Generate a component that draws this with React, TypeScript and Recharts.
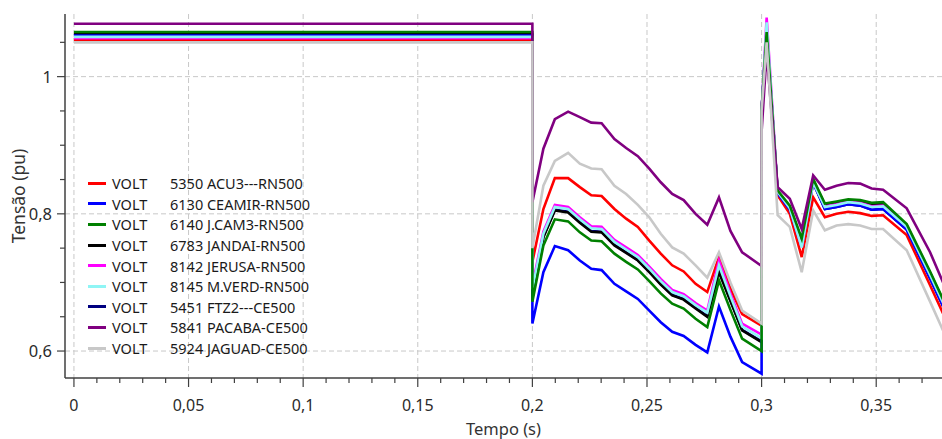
import { CartesianGrid, Line, LineChart, XAxis, YAxis } from "recharts"

// tempo (s): regime, curto em 0,2 s, abertura em 0,3 s
const tempo = [
  0, 0.2,
  0.2, 0.2048, 0.2098, 0.2156, 0.2207, 0.2257, 0.2302, 0.2358, 0.2409, 0.246,
  0.251, 0.256, 0.261, 0.266, 0.2712, 0.2763, 0.2814, 0.2864, 0.2915, 0.3,
  0.3, 0.3022, 0.307, 0.3123, 0.3175, 0.3225, 0.3276, 0.3327, 0.3378, 0.343,
  0.348, 0.353, 0.3633, 0.3735, 0.382,
]

// tensões (pu) por barra
const acu3 = [
  1.054, 1.054,
  0.73, 0.807, 0.852, 0.852, 0.839, 0.827, 0.826, 0.807, 0.793, 0.781,
  0.761, 0.742, 0.725, 0.716, 0.698, 0.686, 0.737, 0.691, 0.654, 0.637,
  0.95, 1.055, 0.827, 0.8, 0.737, 0.824, 0.795, 0.8, 0.803, 0.801,
  0.797, 0.798, 0.769, 0.696, 0.634,
]
const ceamir = [
  1.06, 1.06,
  0.64, 0.715, 0.753, 0.747, 0.732, 0.72, 0.718, 0.698, 0.687, 0.676,
  0.659, 0.642, 0.628, 0.622, 0.609, 0.598, 0.665, 0.621, 0.584, 0.567,
  0.95, 1.07, 0.83, 0.806, 0.752, 0.846, 0.807, 0.81, 0.814, 0.812,
  0.806, 0.807, 0.777, 0.706, 0.645,
]
const jcam3 = [
  1.065, 1.065,
  0.672, 0.754, 0.792, 0.789, 0.773, 0.761, 0.76, 0.742, 0.73, 0.719,
  0.702, 0.684, 0.669, 0.662, 0.647, 0.635, 0.703, 0.66, 0.618, 0.6,
  0.95, 1.065, 0.834, 0.812, 0.764, 0.851, 0.815, 0.818, 0.821, 0.82,
  0.816, 0.817, 0.785, 0.716, 0.655,
]
const jandai = [
  1.062, 1.062,
  0.68, 0.766, 0.805, 0.802, 0.787, 0.774, 0.773, 0.754, 0.743, 0.732,
  0.715, 0.697, 0.681, 0.675, 0.662, 0.65, 0.715, 0.673, 0.63, 0.613,
  0.95, 1.068, 0.832, 0.81, 0.76, 0.849, 0.813, 0.816, 0.819, 0.818,
  0.814, 0.815, 0.783, 0.714, 0.653,
]
const jerusa = [
  1.056, 1.056,
  0.695, 0.774, 0.813, 0.81, 0.795, 0.782, 0.781, 0.762, 0.751, 0.74,
  0.723, 0.705, 0.689, 0.683, 0.67, 0.659, 0.732, 0.684, 0.64, 0.624,
  0.95, 1.086, 0.833, 0.809, 0.752, 0.847, 0.811, 0.814, 0.818, 0.816,
  0.811, 0.812, 0.782, 0.712, 0.651,
]
const mverd = [
  1.058, 1.058,
  0.69, 0.771, 0.81, 0.807, 0.792, 0.779, 0.778, 0.759, 0.748, 0.737,
  0.72, 0.702, 0.686, 0.68, 0.667, 0.656, 0.725, 0.68, 0.636, 0.619,
  0.95, 1.079, 0.832, 0.808, 0.751, 0.846, 0.81, 0.813, 0.817, 0.815,
  0.81, 0.811, 0.781, 0.711, 0.65,
]
const ftz2 = [
  1.06, 1.06,
  0.682, 0.767, 0.806, 0.803, 0.788, 0.775, 0.774, 0.755, 0.744, 0.733,
  0.716, 0.698, 0.682, 0.676, 0.663, 0.651, 0.717, 0.674, 0.631, 0.614,
  0.95, 1.072, 0.83, 0.806, 0.754, 0.845, 0.807, 0.81, 0.814, 0.812,
  0.806, 0.807, 0.777, 0.706, 0.645,
]
const pacaba = [
  1.077, 1.077,
  0.817, 0.895, 0.938, 0.949, 0.941, 0.933, 0.932, 0.909, 0.896, 0.884,
  0.866, 0.846, 0.829, 0.82, 0.8, 0.784, 0.824, 0.775, 0.744, 0.724,
  0.92, 1.035, 0.839, 0.822, 0.778, 0.856, 0.835, 0.841, 0.845, 0.844,
  0.837, 0.835, 0.808, 0.744, 0.678,
]
const jaguad = [
  1.05, 1.05,
  0.75, 0.841, 0.877, 0.889, 0.873, 0.866, 0.865, 0.841, 0.829, 0.813,
  0.795, 0.771, 0.751, 0.742, 0.725, 0.707, 0.744, 0.7, 0.659, 0.64,
  0.95, 1.05, 0.798, 0.781, 0.715, 0.805, 0.776, 0.783, 0.785, 0.783,
  0.778, 0.778, 0.747, 0.672, 0.609,
]

const xTicks = [
  0, 0.01, 0.02, 0.03, 0.04, 0.05, 0.06, 0.07, 0.08, 0.09, 0.1, 0.11, 0.12,
  0.13, 0.14, 0.15, 0.16, 0.17, 0.18, 0.19, 0.2, 0.21, 0.22, 0.23, 0.24, 0.25,
  0.26, 0.27, 0.28, 0.29, 0.3, 0.31, 0.32, 0.33, 0.34, 0.35, 0.36, 0.37,
]
const yTicks = [0.6, 0.65, 0.7, 0.75, 0.8, 0.85, 0.9, 0.95, 1, 1.05]
const xGrid = [0, 0.05, 0.1, 0.15, 0.2, 0.25, 0.3, 0.35]
const yGrid = [0.6, 0.8, 1]

const series = [
  { key: "acu3", nome: "5350 ACU3---RN500", cor: "#ff0000", valores: acu3 },
  { key: "ceamir", nome: "6130 CEAMIR-RN500", cor: "#0000ff", valores: ceamir },
  { key: "jcam3", nome: "6140 J.CAM3-RN500", cor: "#008000", valores: jcam3 },
  { key: "jandai", nome: "6783 JANDAI-RN500", cor: "#000000", valores: jandai },
  { key: "jerusa", nome: "8142 JERUSA-RN500", cor: "#ff00ff", valores: jerusa },
  { key: "mverd", nome: "8145 M.VERD-RN500", cor: "#8ff5f5", valores: mverd },
  { key: "ftz2", nome: "5451 FTZ2---CE500", cor: "#000080", valores: ftz2 },
  { key: "pacaba", nome: "5841 PACABA-CE500", cor: "#800080", valores: pacaba },
  { key: "jaguad", nome: "5924 JAGUAD-CE500", cor: "#c8c8c8", valores: jaguad },
]

// ordem de desenho (o que fica por cima vem por último)
const ordem = ["ftz2", "jandai", "acu3", "ceamir", "jerusa", "mverd", "jcam3", "pacaba", "jaguad"]

const data = tempo.map((t, i) => {
  const row: Record<string, number> = { t }
  series.forEach((s) => (row[s.key] = s.valores[i]))
  return row
})

const FONT = "'Noto Sans', 'DejaVu Sans', sans-serif"
const AXIS = "#404040"

const fmt = (v: number) => String(+v.toFixed(2)).replace(".", ",")

function XTick({ x, y, payload }: any) {
  const v = payload.value
  const major = Math.abs(v * 20 - Math.round(v * 20)) < 1e-6
  return (
    <g>
      <line x1={x} y1={y} x2={x} y2={y + (major ? 9 : 5)} stroke={AXIS} strokeWidth={1.2} />
      {major && (
        <text x={x} y={y + 33} textAnchor="middle" fontSize={16} fill="#2b2b2b" fontFamily={FONT}>
          {fmt(v)}
        </text>
      )}
    </g>
  )
}

function YTick({ x, y, payload }: any) {
  const v = payload.value
  const major = Math.abs(v * 5 - Math.round(v * 5)) < 1e-6
  return (
    <g>
      <line x1={x - (major ? 8 : 5)} y1={y} x2={x} y2={y} stroke={AXIS} strokeWidth={1.2} />
      {major && (
        <text x={x - 13} y={y + 6} textAnchor="end" fontSize={16.5} fill="#2b2b2b" fontFamily={FONT}>
          {fmt(v)}
        </text>
      )}
    </g>
  )
}

export default function App() {
  return (
    <div style={{ position: "absolute", left: 0, top: 0, width: 942, height: 439, background: "#fff", overflow: "hidden" }}>
      <LineChart width={942} height={439} data={data} margin={{ top: 14, right: 0, bottom: 0, left: 0 }}>
        <CartesianGrid
          stroke="#c8c8c8"
          strokeDasharray="5 3"
          verticalValues={xGrid}
          horizontalValues={yGrid}
        />
        <XAxis
          xAxisId="top"
          orientation="top"
          type="number"
          dataKey="t"
          domain={[-0.0039, 0.3787]}
          allowDataOverflow
          height={0}
          tick={false}
          tickLine={false}
          axisLine={{ stroke: AXIS, strokeWidth: 1.5 }}
        />
        <XAxis
          type="number"
          dataKey="t"
          domain={[-0.0039, 0.3787]}
          allowDataOverflow
          ticks={xTicks}
          interval={0}
          tickSize={0}
          tickMargin={0}
          tickLine={false}
          tick={<XTick />}
          height={61}
          axisLine={{ stroke: AXIS, strokeWidth: 1.5 }}
          label={{ value: "Tempo (s)", position: "insideBottom", offset: 4, fontSize: 16.5, fill: "#333", fontFamily: FONT }}
        />
        <YAxis
          type="number"
          domain={[0.5607, 1.0913]}
          allowDataOverflow
          ticks={yTicks}
          interval={0}
          tickSize={0}
          tickMargin={0}
          tickLine={false}
          tick={<YTick />}
          width={65}
          axisLine={{ stroke: AXIS, strokeWidth: 1.5 }}
          label={{
            value: "Tensão (pu)",
            angle: -90,
            position: "insideLeft",
            offset: 19,
            fontSize: 17.5,
            fill: "#333",
            fontFamily: FONT,
            style: { textAnchor: "middle" },
          }}
        />
        {ordem.map((k) => {
          const s = series.find((x) => x.key === k)!
          return (
            <Line
              key={k}
              type="linear"
              dataKey={k}
              name={s.nome}
              stroke={s.cor}
              strokeWidth={2.6}
              dot={false}
              activeDot={false}
              isAnimationActive={false}
            />
          )
        })}
      </LineChart>
      <div style={{ position: "absolute", left: 88, top: 173, fontFamily: FONT, fontSize: 14.5, color: "#1a1a1a" }}>
        {series.map((s) => (
          <div key={s.key} style={{ display: "flex", alignItems: "center", height: 20.6, whiteSpace: "nowrap" }}>
            <span style={{ display: "inline-block", width: 18, height: 3, background: s.cor, marginRight: 6 }} />
            <span style={{ display: "inline-block", width: 58 }}>VOLT</span>
            <span>{s.nome}</span>
          </div>
        ))}
      </div>
    </div>
  )
}
